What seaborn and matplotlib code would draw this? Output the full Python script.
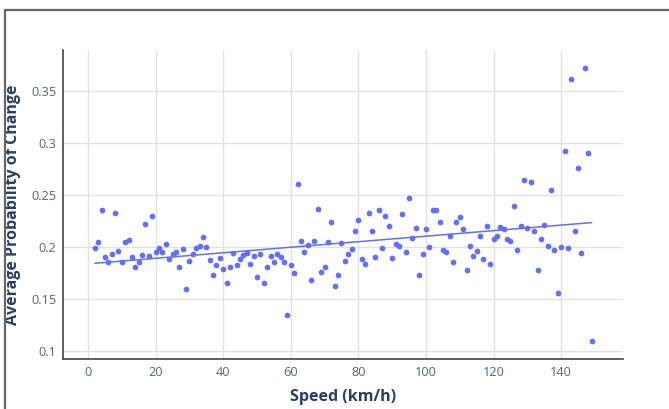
import numpy as np
import pandas as pd
import matplotlib
matplotlib.use("Agg")
import matplotlib.pyplot as plt
import seaborn as sns

speed = list(range(2, 150))
prob = [
    0.199, 0.2045, 0.2353, 0.1904, 0.1853, 0.1933, 0.2327, 0.1965, 0.1862, 0.2051,  # 2-11
    0.2067, 0.1910, 0.1805, 0.1853, 0.1926, 0.2224, 0.1920, 0.2295, 0.1955, 0.1994,  # 12-21
    0.1949, 0.2029, 0.1882, 0.1936, 0.1949, 0.1811, 0.1980, 0.1596, 0.1869, 0.1933,  # 22-31
    0.1990, 0.2016, 0.2096, 0.2000, 0.1875, 0.1731, 0.1827, 0.1894, 0.1795, 0.1660,  # 32-41
    0.1811, 0.1942, 0.1827, 0.1888, 0.1926, 0.1945, 0.1834, 0.1917, 0.1718, 0.1933,  # 42-51
    0.1654, 0.1805, 0.1913, 0.1853, 0.1933, 0.1907, 0.1853, 0.1349, 0.1830, 0.1753,  # 52-61
    0.2609, 0.2064, 0.1952, 0.2022, 0.1686, 0.2058, 0.2365, 0.1766, 0.1808, 0.2048,  # 62-71
    0.2240, 0.1631, 0.1737, 0.2042, 0.1872, 0.1939, 0.1984, 0.2154, 0.2257, 0.1888,  # 72-81
    0.1843, 0.2330, 0.2157, 0.1904, 0.2356, 0.1994, 0.2298, 0.2205, 0.1894, 0.2032,  # 82-91
    0.2016, 0.2317, 0.1955, 0.2474, 0.2087, 0.2183, 0.1731, 0.1930, 0.2173, 0.2003,  # 92-101
    0.2356, 0.2356, 0.2240, 0.1974, 0.1949, 0.2103, 0.1853, 0.2240, 0.2288, 0.2173,  # 102-111
    0.1782, 0.2016, 0.1920, 0.1965, 0.2112, 0.1882, 0.2199, 0.1843, 0.2080, 0.2103,  # 112-121
    0.2195, 0.2173, 0.2080, 0.2055, 0.2394, 0.1971, 0.2202, 0.2644, 0.2183, 0.2625,  # 122-131
    0.2154, 0.1779, 0.2077, 0.2215, 0.2010, 0.2545, 0.1974, 0.1561, 0.2000, 0.2923,  # 132-141
    0.1994, 0.3615, 0.2151, 0.2757, 0.1942, 0.3721, 0.2901, 0.1096,                  # 142-149
]
x_ticks = [0, 20, 40, 60, 80, 100, 120, 140]
y_ticks = [0.1, 0.15, 0.2, 0.25, 0.3, 0.35]
y_tick_labels = ["0.1", "0.15", "0.2", "0.25", "0.3", "0.35"]

df = pd.DataFrame({"Speed (km/h)": speed, "Average Probability of Change": prob})

sns.set_theme(style="white")
plt.rcParams["font.family"] = ["Open Sans", "DejaVu Sans"]

W, H = 669, 409
fig = plt.figure(figsize=(W / 100, H / 100), dpi=100)
ax = fig.add_axes([63 / W, 1 - 359.3 / H, (622.7 - 63) / W, (359.3 - 50) / H])

color = "#636efa"
sns.regplot(data=df, x="Speed (km/h)", y="Average Probability of Change", ax=ax,
            ci=None, color=color,
            scatter_kws={"s": 17, "linewidths": 0, "alpha": 1, "zorder": 3},
            line_kws={"linewidth": 1.1, "zorder": 2})

ax.set_xlim(-7.4, 158.2)
ax.set_ylim(0.0923, 0.3894)
ax.set_xticks(x_ticks)
ax.set_yticks(y_ticks)
ax.set_yticklabels(y_tick_labels)
ax.grid(True, color="#e2e2e2", linewidth=1.0, zorder=0)
ax.set_axisbelow(True)
for s in ["top", "right"]:
    ax.spines[s].set_visible(False)
for s in ["left", "bottom"]:
    ax.spines[s].set_color("#444444")
    ax.spines[s].set_linewidth(1.2)
ax.tick_params(axis="both", length=0, labelsize=9.2, colors="#506784", pad=5)
ax.set_xlabel("Speed (km/h)", fontsize=11.5, fontweight="bold", color="#2a3f5f", labelpad=7)
ax.set_ylabel("Average Probability of Change", fontsize=11.5, fontweight="bold", color="#2a3f5f", labelpad=7)

# outer frame (top and left edges visible)
fig.add_artist(plt.Line2D([4.5 / W, 1.0], [1 - 10 / H, 1 - 10 / H], transform=fig.transFigure,
                          color="#666666", linewidth=1.6))
fig.add_artist(plt.Line2D([4.5 / W, 4.5 / W], [0, 1 - 10 / H], transform=fig.transFigure,
                          color="#666666", linewidth=1.6))

fig.savefig("out.png", dpi=100)
